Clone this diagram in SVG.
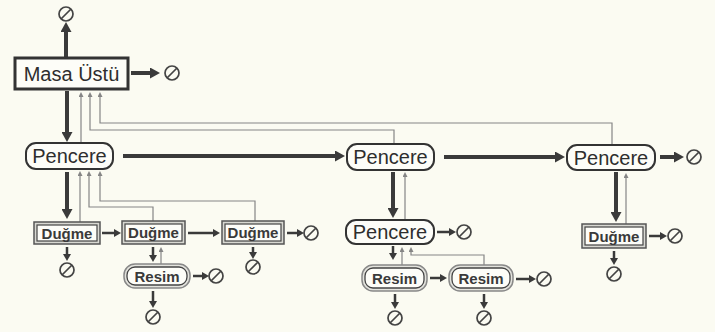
<svg xmlns="http://www.w3.org/2000/svg" xmlns:xlink="http://www.w3.org/1999/xlink" width="715" height="332" viewBox="0 0 715 332">
<style>
.bg{fill:#fbfbf2}
.big{font-family:"Liberation Sans",Arial,sans-serif;font-size:20px;fill:#2e2e2e;text-anchor:middle}
.small{font-family:"Liberation Sans",Arial,sans-serif;font-size:15px;font-weight:bold;fill:#3a3a3a;text-anchor:middle}
.win{fill:#fdfdf8;stroke:#333;stroke-width:2}
.desk{fill:#fdfdf8;stroke:#333;stroke-width:3}
.dout{fill:#d8d8d2;stroke:#555;stroke-width:1.5}
.din{fill:#fdfdf8;stroke:#444;stroke-width:1.2}
.rout{fill:#e4e4de;stroke:#888;stroke-width:1.5}
.rin{fill:#fdfdf8;stroke:#444;stroke-width:1.3}
.thick{stroke:#3a3a3a;stroke-width:4;fill:none;marker-end:url(#ah)}
.med{stroke:#3a3a3a;stroke-width:2.5;fill:none;marker-end:url(#am)}
.thin{stroke:#858585;stroke-width:1.2;fill:none;marker-end:url(#at)}
.nc{fill:none;stroke:#444;stroke-width:1.7}
</style>
<defs>
<marker id="ah" markerUnits="userSpaceOnUse" markerWidth="10" markerHeight="11" refX="3" refY="5.5" orient="auto"><path d="M0,0 L10,5.5 L0,11 z" fill="#3a3a3a"/></marker>
<marker id="am" markerUnits="userSpaceOnUse" markerWidth="7" markerHeight="8" refX="2" refY="4" orient="auto"><path d="M0,0 L7,4 L0,8 z" fill="#3a3a3a"/></marker>
<marker id="at" markerUnits="userSpaceOnUse" markerWidth="5" markerHeight="5" refX="1" refY="2.5" orient="auto"><path d="M0,0 L5,2.5 L0,5 z" fill="#858585"/></marker>
<g id="nul"><circle class="nc" cx="0" cy="0" r="7"/><line class="nc" x1="-5" y1="5" x2="5" y2="-5"/></g>
</defs>
<rect class="bg" x="0" y="0" width="715" height="332"/>

<g id="connectors">
<!-- top level -->
<line class="thick" x1="66" y1="57" x2="66" y2="29"/>
<line class="thick" x1="131" y1="73" x2="153" y2="73"/>
<line class="thick" x1="67" y1="91" x2="67" y2="135"/>
<line class="thin" x1="81" y1="143" x2="81" y2="96"/>
<path class="thin" d="M394,144 V130 H90 V96"/>
<path class="thin" d="M612,145 V123 H100 V96"/>
<!-- pencere row -->
<line class="thick" x1="123" y1="156" x2="338" y2="156"/>
<line class="thick" x1="444" y1="157" x2="558" y2="157"/>
<line class="thick" x1="660" y1="157" x2="677" y2="157"/>
<!-- left pencere children -->
<line class="thick" x1="67" y1="172" x2="67" y2="212"/>
<line class="thin" x1="80" y1="222" x2="80" y2="175"/>
<path class="thin" d="M153,221 V207 H89 V175"/>
<path class="thin" d="M255,221 V201 H100 V175"/>
<line class="med" x1="102" y1="233" x2="116" y2="233"/>
<line class="med" x1="188" y1="233" x2="215" y2="233"/>
<line class="med" x1="287" y1="233" x2="299" y2="233"/>
<line class="med" x1="67" y1="247" x2="67" y2="256"/>
<line class="med" x1="153" y1="247" x2="153" y2="257"/>
<line class="thin" x1="161" y1="264" x2="161" y2="251"/>
<line class="med" x1="193" y1="276" x2="204" y2="276"/>
<line class="med" x1="153" y1="291" x2="153" y2="303"/>
<line class="med" x1="253" y1="247" x2="253" y2="254"/>
<!-- middle -->
<line class="thick" x1="393" y1="172" x2="393" y2="211"/>
<line class="thin" x1="405" y1="220" x2="405" y2="176"/>
<line class="med" x1="437" y1="232" x2="451" y2="232"/>
<line class="med" x1="393" y1="246" x2="393" y2="255"/>
<line class="thin" x1="402" y1="265" x2="402" y2="251"/>
<path class="thin" d="M484,265 V255 H411 V251"/>
<line class="med" x1="430" y1="278" x2="442" y2="278"/>
<line class="med" x1="516" y1="279" x2="531" y2="279"/>
<line class="med" x1="395" y1="294" x2="395" y2="304"/>
<line class="med" x1="484" y1="294" x2="484" y2="304"/>
<!-- right -->
<line class="thick" x1="616" y1="172" x2="616" y2="215"/>
<line class="thin" x1="626" y1="224" x2="626" y2="177"/>
<line class="med" x1="649" y1="236" x2="662" y2="236"/>
<line class="med" x1="614" y1="251" x2="614" y2="260"/>
</g>

<g id="nulls">
<use xlink:href="#nul" x="66" y="14"/>
<use xlink:href="#nul" x="172" y="73"/>
<use xlink:href="#nul" x="694" y="157"/>
<use xlink:href="#nul" x="67" y="270"/>
<use xlink:href="#nul" x="311" y="233"/>
<use xlink:href="#nul" x="216" y="276"/>
<use xlink:href="#nul" x="153" y="317"/>
<use xlink:href="#nul" x="253" y="267"/>
<use xlink:href="#nul" x="464" y="232"/>
<use xlink:href="#nul" x="544" y="279"/>
<use xlink:href="#nul" x="395" y="318"/>
<use xlink:href="#nul" x="484" y="318"/>
<use xlink:href="#nul" x="675" y="236"/>
<use xlink:href="#nul" x="614" y="274"/>
</g>

<g id="masa-ustu"><rect class="desk" x="15" y="58" width="113" height="31"/><text class="big" x="71.5" y="80.5">Masa Üstü</text></g>

<g id="pencere-1"><rect class="win" x="26" y="143" width="87" height="26" rx="10"/><text class="big" x="69.5" y="163">Pencere</text></g>
<g id="pencere-2"><rect class="win" x="347" y="144" width="87" height="26" rx="10"/><text class="big" x="390.5" y="164">Pencere</text></g>
<g id="pencere-3"><rect class="win" x="567" y="145" width="88" height="25" rx="10"/><text class="big" x="611" y="164.5">Pencere</text></g>
<g id="pencere-4"><rect class="win" x="346" y="220" width="88" height="24" rx="10"/><text class="big" x="390" y="239">Pencere</text></g>

<g id="dugme-1"><rect class="dout" x="34" y="222" width="66" height="22"/><rect class="din" x="37" y="225" width="60" height="16"/><text class="small" x="67" y="238.5">Duğme</text></g>
<g id="dugme-2"><rect class="dout" x="122" y="221" width="63" height="23"/><rect class="din" x="125" y="224" width="57" height="17"/><text class="small" x="153.5" y="238">Duğme</text></g>
<g id="dugme-3"><rect class="dout" x="222" y="221" width="62" height="23"/><rect class="din" x="225" y="224" width="56" height="17"/><text class="small" x="253" y="238">Duğme</text></g>
<g id="dugme-4"><rect class="dout" x="582" y="224" width="64" height="24"/><rect class="din" x="585" y="227" width="58" height="18"/><text class="small" x="614" y="241.5">Duğme</text></g>

<g id="resim-1"><rect class="rout" x="124" y="264" width="66" height="24" rx="11"/><rect class="rin" x="127" y="267" width="60" height="18" rx="8"/><text class="small" x="157" y="281.5">Resim</text></g>
<g id="resim-2"><rect class="rout" x="362" y="265" width="65" height="26" rx="11"/><rect class="rin" x="365" y="268" width="59" height="20" rx="8"/><text class="small" x="394.5" y="283.5">Resim</text></g>
<g id="resim-3"><rect class="rout" x="449" y="265" width="64" height="26" rx="11"/><rect class="rin" x="452" y="268" width="58" height="20" rx="8"/><text class="small" x="481" y="283.5">Resim</text></g>
</svg>
